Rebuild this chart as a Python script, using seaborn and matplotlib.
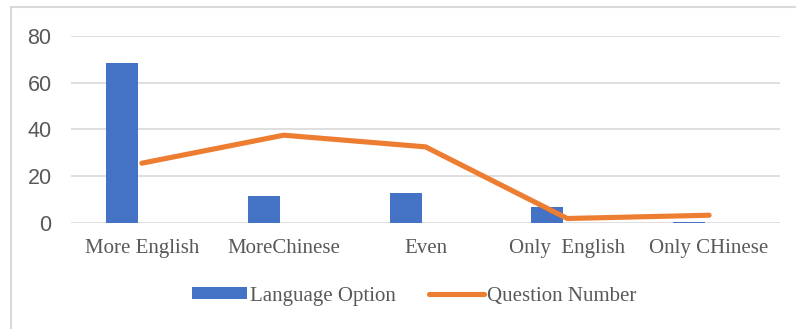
import matplotlib
matplotlib.use("Agg")
import matplotlib.pyplot as plt
import seaborn as sns
import pandas as pd
import numpy as np
from matplotlib.patches import Rectangle, Patch
from matplotlib.lines import Line2D

categories = ["More English", "MoreChinese", "Even", "Only  English", "Only CHinese"]
language_option = [68.3, 11.4, 12.6, 6.6, 0.35]
question_number = [25.5, 37.5, 32.5, 1.8, 3.2]
bar_series = "Language Option"
line_series = "Question Number"
yticks = [0, 20, 40, 60, 80]

sns.set_theme(style="white")
plt.rcParams["font.family"] = ["Liberation Sans", "DejaVu Sans"]

BLUE = "#4472C4"
ORANGE = "#ED7D31"
GRID = "#D9D9D9"
TXT = "#595959"

df_bar = pd.DataFrame({
    "cat": categories * 2,
    "value": language_option + [np.nan] * len(categories),
    "series": [bar_series] * len(categories) + [line_series] * len(categories),
})

fig = plt.figure(figsize=(7.96, 3.29), dpi=100)
ax = fig.add_axes([71 / 796, 1 - 222.7 / 329, (780 - 71) / 796, (222.7 - 36) / 329])

sns.barplot(data=df_bar, x="cat", y="value", hue="series",
            hue_order=[bar_series, line_series], order=categories,
            palette={bar_series: BLUE, line_series: ORANGE},
            width=0.564, gap=0.2, errorbar=None, legend=False, ax=ax,
            saturation=1, linewidth=0)

sns.lineplot(x=categories, y=question_number, sort=False, color=ORANGE,
             linewidth=3.7, ax=ax, solid_capstyle="round", solid_joinstyle="round")

ax.set_xlim(-0.5, len(categories) - 0.5)
ax.set_ylim(0, 80)
ax.set_yticks(yticks)
ax.set_xlabel("")
ax.set_ylabel("")
for s in ax.spines.values():
    s.set_visible(False)
ax.grid(axis="y", color=GRID, linewidth=1.2)
ax.set_axisbelow(True)
ax.tick_params(axis="y", length=0, pad=14, labelsize=15.5, labelcolor=TXT)
ax.tick_params(axis="x", length=0, pad=12, labelcolor=TXT)
for lab in ax.get_xticklabels():
    lab.set_fontfamily("Liberation Serif")
    lab.set_fontsize(15)
for lab in ax.get_yticklabels():
    lab.set_fontfamily("Liberation Sans")

handles = [Patch(facecolor=BLUE, edgecolor="none", label=bar_series),
           Line2D([0], [0], color=ORANGE, linewidth=3.7, solid_capstyle="round", label=line_series)]
leg = fig.legend(handles=handles, loc="center", bbox_to_anchor=(414 / 796, 1 - 296 / 329),
                 ncol=2, frameon=False, handlelength=2.65, handleheight=0.55,
                 handletextpad=0.12, columnspacing=1.6,
                 prop={"family": "Liberation Serif", "size": 15})
for t in leg.get_texts():
    t.set_color(TXT)

fig.patches.append(Rectangle((10.5 / 796, -0.2), 2, 1.2 - 6.5 / 329,
                             transform=fig.transFigure, fill=False,
                             edgecolor=GRID, linewidth=1.5))

fig.savefig("out.png", dpi=100, facecolor="white")
